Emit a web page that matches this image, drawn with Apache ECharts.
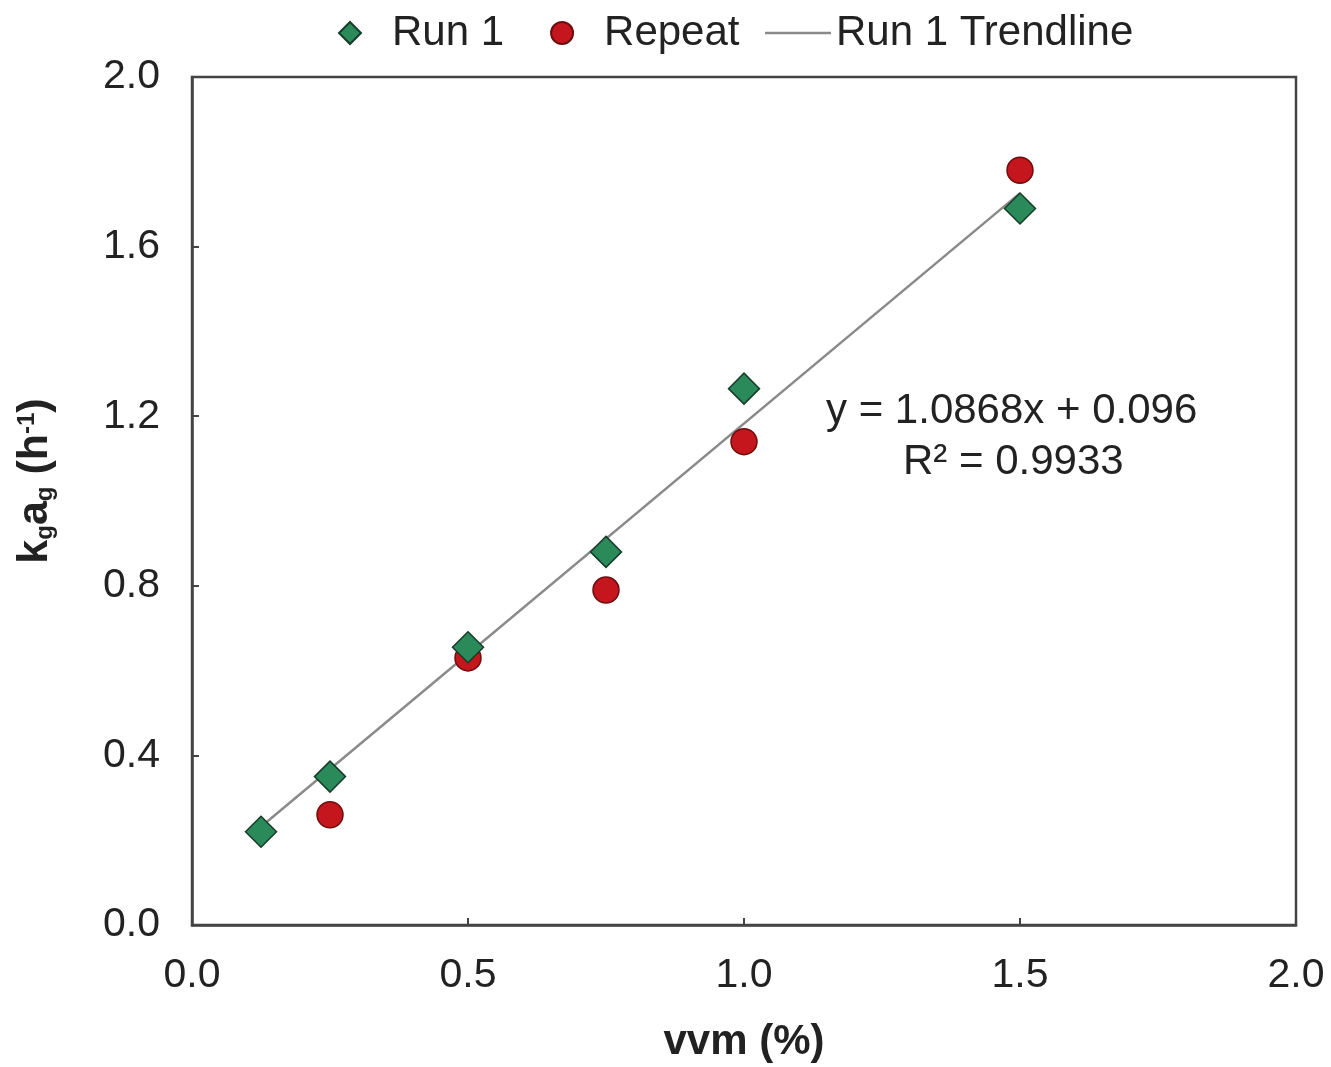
<!DOCTYPE html>
<html>
<head>
<meta charset="utf-8">
<script src="https://cdn.jsdelivr.net/npm/echarts@6/dist/echarts.min.js"></script>
<style>
html,body{margin:0;padding:0;background:#fff;}
#chart{width:1331px;height:1067px;}
</style>
</head>
<body>
<div id="chart"></div>
<script>
// Data
const vvmRun1 = [0.125, 0.25, 0.5, 0.75, 1.0, 1.5];
const kgagRun1 = [0.22, 0.35, 0.655, 0.88, 1.265, 1.69];
const vvmRepeat = [0.25, 0.5, 0.75, 1.0, 1.5];
const kgagRepeat = [0.26, 0.63, 0.79, 1.14, 1.78];
// Trendline (from the equation printed on the chart)
const trendSlope = 1.0868;
const trendIntercept = 0.096;
const trendX = [0.125, 1.5];
const xTicks = [0.0, 0.5, 1.0, 1.5, 2.0];
const yTicks = [0.0, 0.4, 0.8, 1.2, 1.6, 2.0];
const equationText = 'y = 1.0868x + 0.096';
const r2Text = 'R² = 0.9933';

const run1Data = vvmRun1.map((x, i) => [x, kgagRun1[i]]);
const repeatData = vvmRepeat.map((x, i) => [x, kgagRepeat[i]]);
const trendData = trendX.map(x => [x, trendSlope * x + trendIntercept]);

const FONT = '"Liberation Sans", Arial, sans-serif';
const TXT = '#222';

const chart = echarts.init(document.getElementById('chart'));
chart.setOption({
  animation: false,
  backgroundColor: '#fff',
  textStyle: { fontFamily: FONT },
  grid: {
    left: 192, right: 35, top: 77, bottom: 142,
    containLabel: false, outerBoundsMode: 'none',
    show: true, borderColor: '#444', borderWidth: 2.5, backgroundColor: 'transparent'
  },
  legend: [
    {
      data: ['Run 1', 'Repeat'],
      left: 333, top: 7,
      itemWidth: 22, itemHeight: 22, itemGap: 46,
      textStyle: { fontSize: 42, color: TXT, fontFamily: FONT, padding: [0, 0, 0, 26] }
    },
    {
      data: [{ name: 'Run 1 Trendline', icon: 'rect' }],
      left: 760, top: 7,
      itemWidth: 66, itemHeight: 2.5,
      textStyle: { fontSize: 42, color: TXT, fontFamily: FONT }
    }
  ],
  xAxis: {
    type: 'value', min: 0, max: 2, interval: 0.5,
    name: 'vvm (%)', nameLocation: 'middle', nameGap: 96,
    nameTextStyle: { fontSize: 42, fontWeight: 'bold', color: TXT, fontFamily: FONT },
    axisLine: { show: true, lineStyle: { color: '#444', width: 2.5 } },
    axisTick: { show: true, inside: true, length: 7, lineStyle: { color: '#444', width: 2 } },
    axisLabel: {
      fontSize: 41, color: TXT, margin: 30, fontFamily: FONT,
      formatter: v => (xTicks.includes(v) ? v.toFixed(1) : '')
    },
    splitLine: { show: false }
  },
  yAxis: {
    type: 'value', min: 0, max: 2, interval: 0.4,
    name: '{b|k}{s|g}{b|a}{s|g}{b| (h}{p|-1}{b|)}',
    nameLocation: 'middle', nameGap: 129, nameRotate: 90,
    nameTextStyle: {
      color: TXT, fontFamily: FONT, padding: [0, 0, 0, 40],
      rich: {
        b: { fontSize: 43, fontWeight: 'bold', color: TXT, fontFamily: FONT, lineHeight: 56, verticalAlign: 'middle' },
        s: { fontSize: 24, fontWeight: 'bold', color: TXT, fontFamily: FONT, lineHeight: 56, verticalAlign: 'bottom', padding: [0, 0, 6, 0] },
        p: { fontSize: 24, fontWeight: 'bold', color: TXT, fontFamily: FONT, lineHeight: 56, verticalAlign: 'top', padding: [8, 0, 0, 0] }
      }
    },
    axisLine: { show: true, lineStyle: { color: '#444', width: 2.5 } },
    axisTick: { show: true, inside: true, length: 7, lineStyle: { color: '#444', width: 2 } },
    axisLabel: {
      fontSize: 41, color: TXT, margin: 32, fontFamily: FONT,
      formatter: v => (yTicks.some(t => Math.abs(t - v) < 1e-9) ? v.toFixed(1) : '')
    },
    splitLine: { show: false }
  },
  series: [
    {
      name: 'Run 1 Trendline', type: 'line', data: trendData,
      symbol: 'none', z: 1,
      lineStyle: { color: '#8a8a8a', width: 2.5 },
      itemStyle: { color: '#8a8a8a' }
    },
    {
      name: 'Repeat', type: 'scatter', data: repeatData,
      symbol: 'circle', symbolSize: 26, z: 3,
      itemStyle: { color: '#c4161c', borderColor: '#6e0d0d', borderWidth: 1.5, opacity: 1 }
    },
    {
      name: 'Run 1', type: 'scatter', data: run1Data,
      symbol: 'diamond', symbolSize: [31, 31], z: 4,
      itemStyle: { color: '#2b8a5a', borderColor: '#173d29', borderWidth: 1.5, opacity: 1 }
    }
  ],
  graphic: [
    {
      type: 'text', left: 826, top: 390, z: 10,
      style: { text: equationText, fontSize: 42, fill: TXT, fontFamily: FONT }
    },
    {
      type: 'text', left: 903, top: 441, z: 10,
      style: { text: r2Text, fontSize: 42, fill: TXT, fontFamily: FONT }
    }
  ]
});
</script>
</body>
</html>
